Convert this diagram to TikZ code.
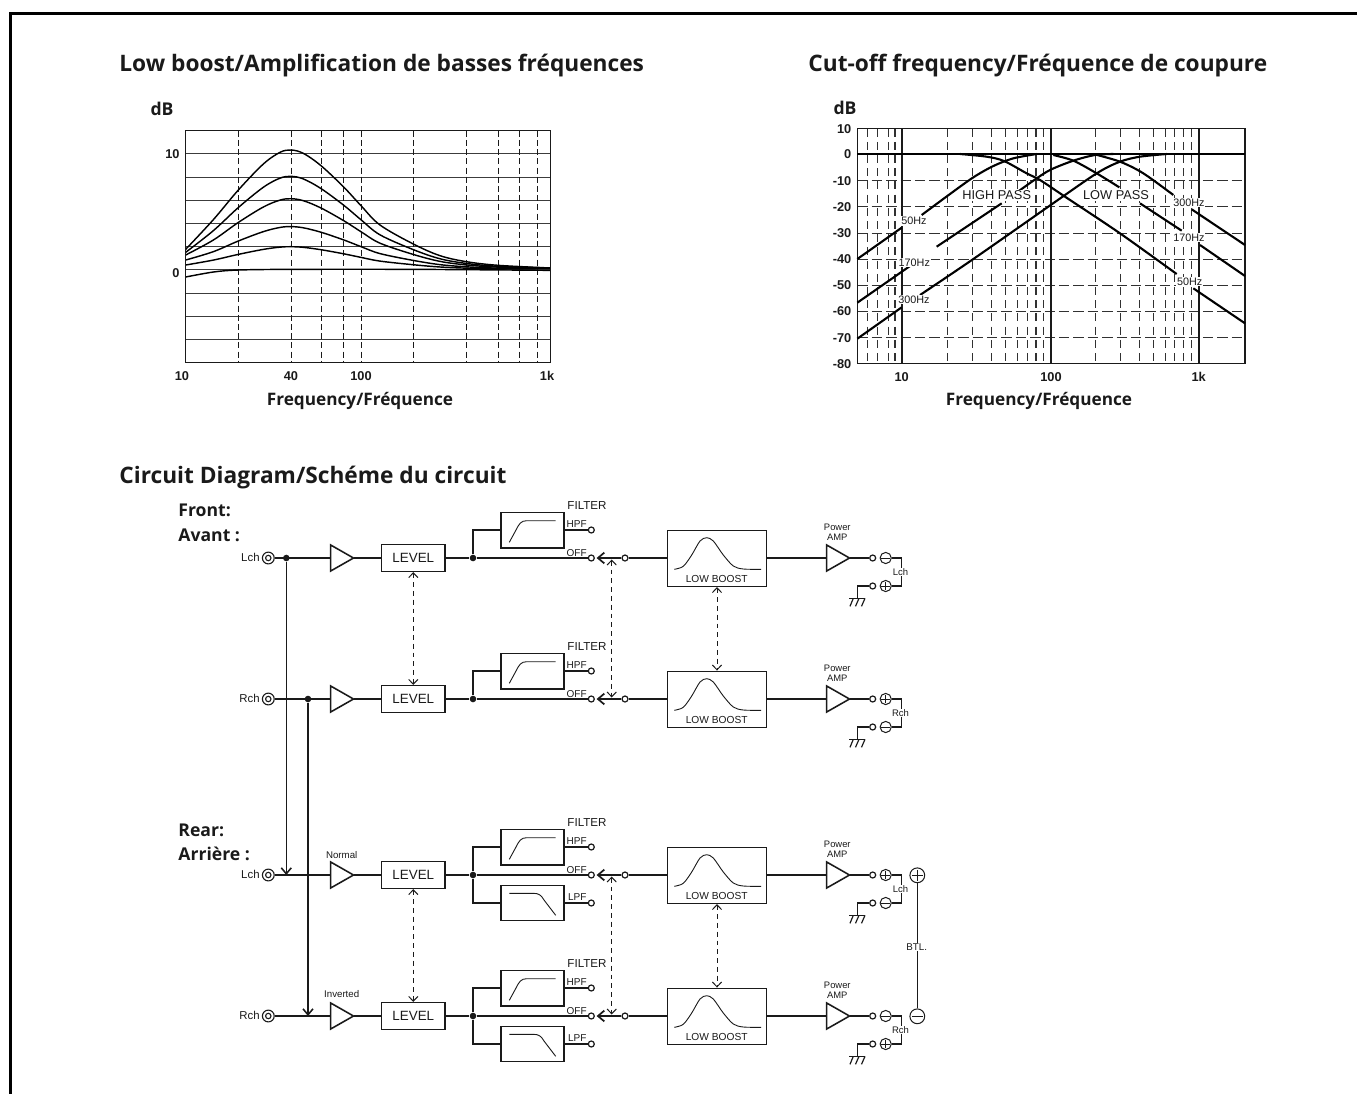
\documentclass[tikz,border=0pt]{standalone}
\usepackage{fontspec}
\setmainfont{Liberation Sans}
\newfontfamily\headfont{Open Sans}
\usetikzlibrary{arrows.meta,calc}
\definecolor{ink}{HTML}{1A1A1A}
\tikzset{
  every node/.style={inner sep=0pt,text=ink},
  wire/.style={draw=ink,line width=0.78pt},
  thinline/.style={draw=ink,line width=0.45pt},
  gridh/.style={draw=ink!85,line width=0.55pt},
  griddash/.style={draw=ink,line width=0.5pt,dash pattern=on 3pt off 1.6pt},
  rgridv/.style={draw=ink!90,line width=0.55pt,dash pattern=on 4pt off 2.6pt},
  rgridh/.style={draw=ink!90,line width=0.55pt,dash pattern=on 5.2pt off 2pt},
  curve/.style={draw=black,line width=0.72pt},
  tcurve/.style={draw=black,line width=1.05pt},
  heading/.style={anchor=base west,font=\headfont\bfseries\fontsize{11.35}{13}\selectfont},
  dblabel/.style={font=\headfont\bfseries\fontsize{8.8}{10}\selectfont},
  freqlabel/.style={anchor=base,font=\headfont\bfseries\fontsize{8.6}{10}\selectfont},
  ticklab/.style={font=\bfseries\fontsize{6.4}{8}\selectfont},
  rlab/.style={font=\fontsize{5.4}{7}\selectfont,fill=white,inner sep=0.4pt},
  boxed/.style={draw=ink,line width=0.78pt,fill=white},
  contact/.style={circle,draw=ink,line width=0.6pt,fill=white,minimum size=3pt},
  jackout/.style={circle,draw=ink,line width=0.55pt,minimum size=5.9pt},
  jackin/.style={circle,draw=ink,line width=0.55pt,minimum size=2.7pt},
  dotnode/.style={circle,fill=ink,minimum size=3.3pt},
  ampbox/.style={minimum width=11pt,minimum height=12.6pt},
  small/.style={font=\fontsize{#1}{#1}\selectfont},
  sign/.style={circle,draw=ink,line width=0.5pt,fill=white,minimum size=5.6pt},
  lnk/.style={draw=ink,line width=0.5pt,dash pattern=on 2.4pt off 2pt,
     {Straight Barb[length=2.4pt,width=4.6pt,line width=0.5pt]}-{Straight Barb[length=2.4pt,width=4.6pt,line width=0.5pt]}},
  feed/.style={wire,-{Straight Barb[length=3pt,width=5pt,line width=0.78pt]}},
  swarm/.style={wire,-{Straight Barb[length=3.2pt,width=5.4pt,line width=0.85pt]}},
}
% sign circle: #1 name, #2 x, #3 y, #4 p/m, #5 size in pt
\newcommand{\signode}[5]{%
  \node[sign,minimum size=#5] (#1) at (#2,#3) {};
  \draw[draw=ink,line width=0.5pt] ($(#1.west)!0.15!(#1.east)$) -- ($(#1.west)!0.85!(#1.east)$);
  \if#4p\draw[draw=ink,line width=0.5pt] ($(#1.north)!0.15!(#1.south)$) -- ($(#1.north)!0.85!(#1.south)$);\fi
}
% amp: #1 name, #2 left x, #3 y
\newcommand{\ampnode}[3]{%
  \node[ampbox,anchor=west] (#1) at (#2,#3) {};
  \draw[wire] (#1.north west) -- (#1.east) -- (#1.south west) -- cycle;
}
% highpass filter block
\newcommand{\hpblock}[2]{%
  \begin{scope}[shift={(0,#2)}]
    \node[boxed,minimum width=31.65pt,minimum height=17.6pt] (#1-hp) at (532.4,-27.8) {};
    \draw[thinline] (509.3,-15.7) -- (516,-28) .. controls (519,-34) and (521,-37.3) .. (526.7,-37.3) -- (555.7,-37.3);
    \node[contact] (#1-hpc) at (591.3,-28) {};
    \node[small=5] (#1-hpl) at (576.7,-33.6) {HPF};
    \node[small=5.8] (#1-fl) at (587,-52.6) {FILTER};
    \coordinate (#1-hpj) at (473,-28);
  \end{scope}
  \draw[wire] (#1-jn) -- (#1-hpj) -- (#1-hp.west |- #1-hpj);
  \draw[wire] (#1-hp.east |- #1-hpc) -- (#1-hpc);
}
% lowpass filter block
\newcommand{\lpblock}[2]{%
  \begin{scope}[shift={(0,#2)}]
    \node[boxed,minimum width=31.65pt,minimum height=17.6pt] (#1-lp) at (532.4,28) {};
    \draw[thinline] (509.3,18.3) -- (533,18.3) .. controls (539,18.3) and (541,20) .. (544,25) -- (555.7,40.3);
    \node[contact] (#1-lpc) at (591.3,28) {};
    \node[small=5] (#1-lpl) at (577.3,22.4) {LPF};
    \coordinate (#1-lpj) at (473,28);
  \end{scope}
  \draw[wire] (#1-jn) -- (#1-lpj) -- (#1-lp.west |- #1-lpj);
  \draw[wire] (#1-lp.east |- #1-lpc) -- (#1-lpc);
}
% channel: #1 name, #2 y, #3 input label, #4 upper sign, #5 lower sign, #6 bracket label
\newcommand{\chan}[6]{%
  \begin{scope}[shift={(0,#2)}]
    \node[small=5.7,anchor=east] (#1-il) at (260,-0.5) {#3};
    \node[jackout] (#1-jack) at (268.3,0) {};
    \node[jackin] (#1-jacki) at (268.3,0) {};
    \ampnode{#1-amp}{330.7}{0}
    \node[boxed,minimum width=31.65pt,minimum height=13.3pt,small=6.7] (#1-level) at (413.3,0) {LEVEL};
    \node[dotnode] (#1-jn) at (473,0) {};
    \node[contact] (#1-off) at (591.3,0) {};
    \node[small=5] (#1-offl) at (576.7,-5.4) {OFF};
    \coordinate (#1-tip) at (596.6,0);
    \node[contact] (#1-sw) at (625,0) {};
    \node[boxed,minimum width=49.7pt,minimum height=28pt] (#1-lb) at (717,0.3) {};
    \draw[thinline] plot[smooth] coordinates {(674.3,11.3) (683.3,8.3) (691.7,-3) (700,-17) (706.7,-20.3) (713.3,-17) (723.3,-3) (733.3,8) (743.3,11) (761,11.3)};
    \node[small=5.1] (#1-lbl) at (716.7,20.7) {LOW BOOST};
    \node[small=4.7] (#1-pw) at (837.3,-30.3) {Power};
    \node[small=4.7] (#1-am) at (837.3,-20.6) {AMP};
    \ampnode{#1-pa}{826.7}{0}
    \node[contact] (#1-c1) at (872.7,0) {};
    \node[contact] (#1-c2) at (872.7,28) {};
    \signode{#1-s1}{885.7}{0}{#4}{5.6pt}
    \signode{#1-s2}{885.7}{28}{#5}{5.6pt}
    \coordinate (#1-b1) at (901.3,0);
    \coordinate (#1-b2) at (901.3,28);
    \coordinate (#1-g) at (857.3,40.3);
    \coordinate (#1-g1) at (849.3,40.3);
    \coordinate (#1-g2) at (865.3,40.3);
    \draw[wire,line width=0.6pt] (#1-s1) -- (#1-b1) -- (#1-b2) -- (#1-s2);
    \node[small=4.75,fill=white,inner sep=0.3pt] (#1-bl) at (900.5,14.3) {#6};
    \draw[wire,line width=0.6pt] (#1-c2) -| (#1-g);
    \draw[wire,line width=0.6pt] (#1-g1) -- (#1-g2);
    \draw[wire,line width=0.6pt] (853.3,40.3) -- (850,48.3) (859,40.3) -- (855.5,48.3) (865,40.3) -- (861.5,48.3);
  \end{scope}
  \draw[wire] (#1-jack) -- (#1-amp.west);
  \draw[wire] (#1-amp.east) -- (#1-level);
  \draw[wire] (#1-level) -- (#1-jn);
  \draw[wire] (#1-jn) -- (#1-off);
  \draw[swarm] (#1-sw) -- (#1-tip);
  \draw[wire] (#1-sw) -- (#1-lb.west |- #1-sw);
  \draw[wire] (#1-lb.east |- #1-sw) -- (#1-pa.west);
  \draw[wire] (#1-pa.east) -- (#1-c1);
}
\begin{document}
\begin{tikzpicture}[x=0.5pt,y=-0.5pt]
\useasboundingbox (0,0) rectangle (1357,1094);
% frame
\coordinate (fa) at (1357,13.5);
\coordinate (fb) at (10.5,13.5);
\coordinate (fc) at (10.5,1094);
\draw[draw=black,line width=1.6pt] (fa) -- (fb) -- (fc);
% headings
\node[heading] (h1) at (119,71) {Low boost/Amplification de basses fréquences};
\node[heading] (h2) at (808,71) {Cut-off frequency/Fréquence de coupure};
\node[heading] (h3) at (119,483) {Circuit Diagram/Schéme du circuit};
% LEFT CHART ---------------------------------------------------
\foreach \yy in {153.6,177.4,200.5,223.5,246.6,269.6,293.5,316.5,339.5}
  \draw[gridh] (185.7,\yy) -- (550.7,\yy);
\foreach \xx in {238.3,291.4,321.4,343.7,361.4,413.4,466.4,498.4,519.4,537.4}
  \draw[griddash] (\xx,130.7) -- (\xx,362.7);
\begin{scope}[shift={(130,90)},x=0.16667pt,y=-0.16667pt]
  \foreach \a/\l in {1/61,0.78/52,0.593/44,0.36/29,0.192/14}
    \draw[curve] plot[smooth,tension=0.55] coordinates {(167,{539-\l}) (250,{539-150*\a}) (325,{539-239*\a}) (400,{539-317*\a}) (450,{539-352*\a}) (483,{539-359*\a}) (520,{539-349*\a}) (573,{539-312*\a}) (641,{539-248*\a}) (693,{539-192*\a}) (750,{539-134*\a}) (850,{539-77*\a}) (930,{539-42*\a}) (1009,{539-24*\a}) (1105,{539-13*\a}) (1262,{539-5})};
  \draw[curve] plot[smooth] coordinates {(167,561) (250,546) (325,540) (483,538) (850,538) (1262,541)};
\end{scope}
\draw[wire] (185.7,130.7) rectangle (550.7,362.7);
\node[dblabel] (d1) at (162,109) {dB};
\node[ticklab,anchor=east] (l10) at (180,154) {10};
\node[ticklab,anchor=east] (l0) at (180,272.7) {0};
\node[ticklab] (x10) at (182,376) {10};
\node[ticklab] (x40) at (291,376) {40};
\node[ticklab] (x100) at (361,376) {100};
\node[ticklab] (x1k) at (547,376) {1k};
\node[freqlabel] (xl1) at (360,405) {Frequency/Fréquence};
% RIGHT CHART --------------------------------------------------
\begin{scope}[shift={(800,90)},x=0.16667pt,y=-0.16667pt]
  \foreach \yy in {272.5,350.5,430.5,508.5,586.5,664.5,743.5}
    \draw[rgridh] (172,\yy) -- (1335,\yy);
  \foreach \xx in {203,233,265,285,443,518,574,617,652,682,708,731,886,962,1019,1061,1096,1124,1150,1174}
    \draw[rgridv] (\xx,116) -- (\xx,821);
  \foreach \xx in {305,752,1196}
    \draw[wire,line width=0.85pt] (\xx,116) -- (\xx,821);
  \draw[wire] (172,116) rectangle (1335,821);
  \draw[tcurve] (172,193) -- (1335,193);
  % high pass
  \draw[tcurve] (172,507) -- (305,413);
  \draw[tcurve] plot[smooth,tension=0.5] coordinates {(365,375) (450,312) (520,262) (580,228) (640,205) (710,192)};
  \draw[tcurve] (172,638) -- (330,528);
  \draw[tcurve] (410,470) -- (605,340);
  \draw[tcurve] plot[smooth,tension=0.5] coordinates {(640,315) (700,272) (750,240) (820,212) (885,195) (940,192)};
  \draw[tcurve] (172,746) -- (305,652);
  \draw[tcurve] plot[smooth,tension=0.5] coordinates {(360,615) (520,507) (752,345) (890,250) (960,215) (1020,200) (1100,192)};
  % low pass
  \draw[tcurve] plot[smooth,tension=0.5] coordinates {(480,192) (560,200) (612,213) (680,250) (720,270) (795,320) (960,430) (1130,552)};
  \draw[tcurve] (1180,595) -- (1335,700);
  \draw[tcurve] plot[smooth,tension=0.5] coordinates {(760,195) (820,212) (890,250) (958,292)};
  \draw[tcurve] (1020,340) -- (1145,422);
  \draw[tcurve] (1200,465) -- (1335,558);
  \draw[tcurve] plot[smooth,tension=0.5] coordinates {(880,192) (960,215) (1030,250) (1120,315)};
  \draw[tcurve] (1175,358) -- (1335,465);
  % labels
  \node[rlab] (r1) at (342,393) {50Hz};
  \node[rlab] (r2) at (343,518) {170Hz};
  \node[rlab] (r3) at (342,628) {300Hz};
  \node[rlab,font=\fontsize{6.4}{8}\selectfont] (r4) at (590,316) {HIGH PASS};
  \node[rlab,font=\fontsize{6.4}{8}\selectfont] (r5) at (948,316) {LOW PASS};
  \node[rlab] (r6) at (1167,338) {300Hz};
  \node[rlab] (r7) at (1167,442) {170Hz};
  \node[rlab] (r8) at (1169,574) {50Hz};
  \foreach \yy/\t in {116/10,193/0,272/-10,350/-20,429/-30,507/-40,586/-50,664/-60,743/-70,821/-80}
    \node[ticklab,anchor=east] (y\t) at (155,\yy) {\t};
  \node[ticklab] (q10) at (305,860) {10};
  \node[ticklab] (q100) at (753,860) {100};
  \node[ticklab] (q1k) at (1196,860) {1k};
\end{scope}
\node[dblabel] (d2) at (845,108) {dB};
\node[freqlabel] (xl2) at (1039,405) {Frequency/Fréquence};
% CIRCUIT ------------------------------------------------------
\node[dblabel,anchor=base west] (fr) at (178,516) {Front:};
\node[dblabel,anchor=base west] (av) at (178,541) {Avant :};
\node[dblabel,anchor=base west] (re) at (178,836) {Rear:};
\node[dblabel,anchor=base west] (ar) at (178,860) {Arrière :};
\chan{a}{558}{Lch}{m}{p}{Lch}
\chan{b}{699}{Rch}{p}{m}{Rch}
\chan{c}{875}{Lch}{p}{m}{Lch}
\chan{d}{1016}{Rch}{m}{p}{Rch}
\hpblock{a}{558}
\hpblock{b}{699}
\hpblock{c}{875}
\hpblock{d}{1016}
\lpblock{c}{875}
\lpblock{d}{1016}
\node[dotnode] (ja) at (286.3,558) {};
\node[dotnode] (jb) at (308,699) {};
\coordinate (ea) at (286.3,875);
\coordinate (eb) at (308,1016);
\draw[feed] (ja) -- (ea);
\draw[feed] (jb) -- (eb);
\node[small=4.85] (nm) at (341.7,854.7) {Normal};
\node[small=4.85] (iv) at (341.7,994.3) {Inverted};
\draw[lnk] (a-level) -- (b-level);
\draw[lnk] (c-level) -- (d-level);
\draw[lnk] (a-lb) -- (b-lb);
\draw[lnk] (c-lb) -- (d-lb);
\coordinate (sa) at (611.7,559.5);
\coordinate (sb) at (611.7,697.5);
\coordinate (sc) at (611.7,876.5);
\coordinate (sd) at (611.7,1014.5);
\draw[lnk] (sa) -- (sb);
\draw[lnk] (sc) -- (sd);
\signode{bp}{917.3}{875.3}{p}{7.4pt}
\signode{bm}{917.3}{1016.3}{m}{7.4pt}
\draw[wire] (bp) -- (bm);
\node[small=4.9,fill=white,inner sep=0.4pt] (btl) at (916.7,946.7) {BTL.};
\end{tikzpicture}
\end{document}
